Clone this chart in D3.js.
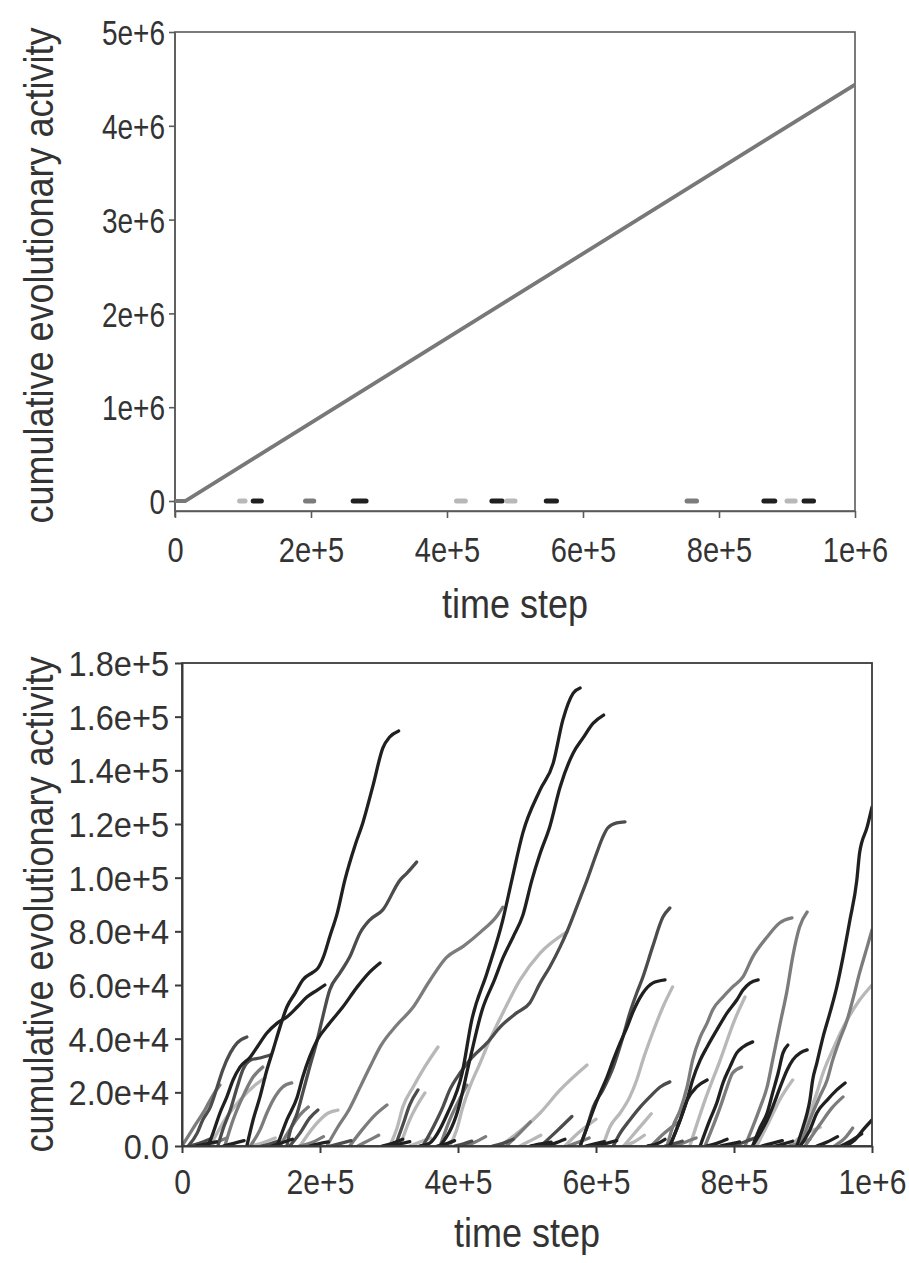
<!DOCTYPE html>
<html><head><meta charset="utf-8">
<script src="https://cdn.jsdelivr.net/npm/d3@7"></script>
<style>body{margin:0;background:#fff}svg{display:block}</style>
</head><body>
<svg id="c" width="909" height="1263"></svg>
<script>
// ---------- DATA ----------
// Top panel
const topXTicks = [0, 200000, 400000, 600000, 800000, 1000000];
const topXTickLabels = ["0", "2e+5", "4e+5", "6e+5", "8e+5", "1e+6"];
const topYTicks = [0, 1000000, 2000000, 3000000, 4000000, 5000000];
const topYTickLabels = ["0", "1e+6", "2e+6", "3e+6", "4e+6", "5e+6"];
const topMainX = [0, 15000, 1000000];
const topMainY = [0, 0, 4440000];
// short lineages lying on y = 0 (start, end in time steps, and shade class)
const topMinorStart = [95000, 115000, 192000, 262000, 414000, 466000, 488000, 546000, 753000, 866000, 900000, 925000];
const topMinorEnd   = [103000, 127000, 204000, 281000, 427000, 481000, 500000, 561000, 767000, 882000, 912000, 939000];
const topMinorGroup = ["l", "k", "m", "k", "l", "k", "l", "k", "m", "k", "l", "k"];

// Bottom panel
const botXTicks = [0, 200000, 400000, 600000, 800000, 1000000];
const botXTickLabels = ["0", "2e+5", "4e+5", "6e+5", "8e+5", "1e+6"];
const botYTicks = [0, 20000, 40000, 60000, 80000, 100000, 120000, 140000, 160000, 180000];
const botYTickLabels = ["0.0", "2.0e+4", "4.0e+4", "6.0e+4", "8.0e+4", "1.0e+5", "1.2e+5", "1.4e+5", "1.6e+5", "1.8e+5"];
// lineage shade classes: k black, d dark gray, m mid gray, l light gray
const lineageGroup = [
  "k","k","d","d","m","m","l","d","k","m",
  "m","m","d","m","l","l","d","l","k","k",
  "d","l","m","l","d","k","l","d","m","k",
  "m","k","m","k","l","l","k","k","k","m",
  "l","k","m","k","m",
  "m","d","l","l","m","l",
  "d","m","k","l","k","m","d","m","k","l","k","m","d","l","k","m","k","l","k","m","k","d","k","m","k","k",
  "k","d","k","k","d","k","k","d","k","k"
];
// lineage points: [time step (thousands), activity (thousands)]
const lineagePoints = [
  [[94,0],[103,9.7],[113,18.3],[123,28.3],[132,35.8],[142,44.3],[152,51.8],[164,57],[175,61.9],[190,64.8],[197,66.3],[206,71.2],[214,77.9],[225,86.8],[236,99.1],[251,112.2],[262,120.4],[277,134.5],[291,148.3],[301,152.4],[314,154.7]],
  [[38,0],[45,4.8],[55,12.3],[65,18.3],[74,24.6],[84,29.4],[99,33.2],[109,36.9],[123,42.1],[138,45.8],[152,48.1],[167,51.8],[181,55.5],[196,58.1],[207,60]],
  [[9,0],[22,4.8],[30,9.7],[41,14.5],[51,22],[59,28.3],[70,34.7],[80,38.4],[94,40.6]],
  [[52,0],[59,6],[70,13.4],[80,22],[88,28.3],[99,32],[113,32.8],[128,33.9]],
  [[0,0],[19,7.8],[33,13.4],[45,19],[55,22.7]],
  [[62,0],[74,9.7],[88,18.3],[103,25.7],[117,29.4]],
  [[41,0],[62,9.7],[84,17.1],[106,22.7],[120,25.3]],
  [[152,0],[156,4.8],[167,12.3],[175,19.8],[185,29.4],[196,39.5],[203,47],[214,58.1],[229,64.5],[243,70.4],[258,79.4],[272,84.2],[291,88],[316,99.1],[326,101.7],[340,105.8]],
  [[138,0],[152,9.7],[167,18.3],[175,25.7],[185,33.2],[196,39.5],[214,45.8],[233,51.8],[254,59.3],[272,64.8],[287,68.2]],
  [[210,0],[225,6.7],[243,14],[259,22.4],[273,29.8],[288,37.3],[311,45],[334,51.4],[359,61.6],[383,70.2],[408,74.5],[433,79.8],[457,85.9],[465,89]],
  [[99,0],[113,6],[123,12.3],[132,17.1],[146,22],[159,23.5]],
  [[142,0],[156,6],[171,11.6],[183,14.5]],
  [[156,0],[171,4.8],[185,10.4],[197,13.4]],
  [[243,0],[261,6],[280,11.6],[297,15.3]],
  [[171,0],[193,7.8],[212,12.3],[226,13.4]],
  [[301,0],[312,7],[320,14.5],[335,22],[349,28.3],[371,36.9]],
  [[309,0],[320,7.8],[330,15.3],[342,20.9]],
  [[316,0],[330,9.7],[352,19.8]],
  [[345,0],[359,1.1],[385,12.3],[406,27.2],[420,47],[442,64.5],[465,84.3],[478,99.1],[494,116.7],[519,132.7],[538,142.7],[552,158.8],[567,168.8],[577,170.7]],
  [[374,0],[400,13.4],[417,32],[435,50.7],[453,62],[465,70],[480,78],[494,86],[507,99],[519,109],[533,119],[548,133.8],[567,146.5],[581,152],[596,157.6],[611,160.6]],
  [[349,0],[364,7],[378,14.5],[388,20.9],[403,27.2],[417,32],[442,38.4],[461,44.3],[485,49.6],[504,53.3],[519,60.7],[533,66.7],[548,74.2],[559,80.5],[577,92.4],[587,99.1],[601,109.2],[610,115.2],[617,118.5],[630,120.4],[642,120.8]],
  [[388,0],[398,6],[407,14.5],[417,22],[432,30.9],[446,39.5],[465,49.6],[490,61.9],[519,71.9],[558,79.8]],
  [[374,0],[388,9.7],[407,19.8],[413,22.7]],
  [[461,0],[519,12.3],[548,20.9],[587,30.2]],
  [[577,0],[587,7],[596,14.5],[610,20.9],[625,29.4],[639,40.6],[649,49.6],[659,57],[668,63],[682,74.2],[697,85.3],[707,88.7]],
  [[577,0],[587,7],[596,13.4],[606,19.8],[616,25.7],[625,32],[635,38.4],[645,44.3],[653,49.6],[668,57],[682,60.7],[700,61.9]],
  [[610,0],[620,7],[635,12.3],[649,18.3],[659,24.6],[668,32],[682,42.1],[697,51.8],[711,59.3]],
  [[625,0],[635,4.8],[649,9.7],[664,14.5],[678,18.3],[693,22],[707,23.9]],
  [[703,0],[711,7],[722,13.4],[732,22],[740,32],[751,40.6],[761,45.8],[769,50.7],[784,55.5],[798,59.3],[813,63],[827,70.4],[848,77.9],[866,83.1],[884,85]],
  [[707,0],[722,9.7],[732,17.1],[740,24.6],[751,32],[761,36.9],[775,43.2],[790,49.6],[804,54.4],[813,58.1],[823,60.7],[835,61.9]],
  [[816,0],[827,7],[838,14.5],[848,22],[856,32],[867,45.8],[877,58.1],[885,70.4],[895,81.6],[906,87.2]],
  [[751,0],[765,9.7],[775,16],[784,23.5],[794,29.4],[804,34.7],[813,36.9],[827,38.8]],
  [[758,0],[769,7],[780,14.5],[790,22],[798,27.2],[811,29.4]],
  [[707,0],[722,9.7],[732,17.1],[746,22],[761,24.6]],
  [[833,0],[852,9.7],[866,17.1],[885,24.6]],
  [[736,0],[758,17.1],[780,32],[801,47],[816,55.5]],
  [[827,0],[838,7],[848,12.3],[856,19.8],[864,27.2],[871,34.7],[878,37.6]],
  [[827,0],[838,4.8],[848,9.7],[856,14.5],[867,22],[877,28.3],[885,32],[896,34.7],[906,35.8]],
  [[891,0],[900,7],[906,12.3],[910,17.1],[914,24.6],[920,30.9],[929,40.6],[939,49.6],[949,59.3],[958,70.4],[968,84.2],[978,99.1],[982,109.2],[993,118.9],[1000,126.3]],
  [[896,0],[906,7],[914,12.3],[924,18.3],[935,24.6],[943,32],[953,39.5],[964,47],[972,54.4],[982,64.5],[993,74.2],[1000,80.5]],
  [[896,0],[900,4.8],[910,12.3],[920,19.8],[929,27.2],[943,35.8],[964,47],[982,54.4],[1000,60]],
  [[896,0],[910,6],[920,12.3],[935,17.1],[949,20.9],[961,23.5]],
  [[903,0],[924,7.8],[942,14.2],[958,18.3]],
  [[961,0],[975,2.2],[987,6],[1000,9.7]],
  [[946,0],[961,3],[972,6.7]],
  [[470,0],[490,5],[505,9]],
  [[520,0],[545,6],[565,11]],
  [[555,0],[575,5],[600,10]],
  [[640,0],[660,6],[680,12]],
  [[680,0],[700,5],[720,9]],
  [[880,0],[900,4],[925,7]],
  // small lineages hugging the baseline
  [[10,0],[25,1],[40,2.5]],
  [[30,0],[50,1.5],[65,3]],
  [[60,0],[75,1],[90,2]],
  [[100,0],[120,1.5],[135,3]],
  [[130,0],[145,1.2],[160,2.5]],
  [[170,0],[190,1.5],[205,3.5]],
  [[215,0],[230,1],[245,2]],
  [[255,0],[270,2],[285,4]],
  [[290,0],[305,1],[320,2.5]],
  [[330,0],[345,1.5],[360,3]],
  [[370,0],[385,1],[395,2]],
  [[410,0],[425,1.5],[440,3.5]],
  [[450,0],[465,1],[480,2.5]],
  [[490,0],[505,2],[520,4]],
  [[525,0],[540,1],[555,2.5]],
  [[560,0],[575,1.5],[590,3]],
  [[600,0],[615,1],[630,2]],
  [[640,0],[655,1.5],[670,4]],
  [[675,0],[690,1],[700,2.5]],
  [[715,0],[730,1.5],[745,3]],
  [[760,0],[775,1],[790,2.5]],
  [[800,0],[815,1.5],[830,3]],
  [[840,0],[855,1],[870,2]],
  [[880,0],[895,1],[910,2.5]],
  [[920,0],[935,1.5],[950,3.5]],
  [[955,0],[970,2],[985,4.5]],
  [[20,0],[35,0.8],[50,1.5]],
  [[115,0],[128,0.8],[140,1.8]],
  [[185,0],[198,0.8],[212,1.5]],
  [[300,0],[315,0.8],[330,1.6]],
  [[395,0],[408,0.8],[420,1.8]],
  [[505,0],[520,0.8],[535,1.4]],
  [[585,0],[598,0.8],[612,1.6]],
  [[700,0],[712,0.8],[725,1.8]],
  [[780,0],[795,0.8],[808,1.5]],
  [[860,0],[872,0.8],[885,1.8]]
];

// ---------- DRAW ----------
const svg = d3.select("#c");
const shade = d3.scaleOrdinal().domain(["l","m","d","k"]).range(["#b8b8b8","#7c7c7c","#4c4c4c","#202020"]);
const textCol = "#333";
const FONT = "'Liberation Sans', Arial, Helvetica, sans-serif";

function label(x, y, str, size, anchor, rot, sx) {
  svg.append("text")
    .attr("transform", `translate(${x},${y}) rotate(${rot||0}) scale(${sx||1},1)`)
    .attr("text-anchor", anchor).attr("font-family", FONT).attr("font-size", size)
    .attr("fill", textCol).text(str);
}

function styleAxis(g, isX, offset, size, sx, col, w) {
  g.select(".domain").attr("stroke", col).attr("stroke-width", w);
  g.selectAll(".tick line").attr("stroke", col).attr("stroke-width", w);
  const t = g.selectAll(".tick text").attr("font-family", FONT).attr("font-size", size)
    .attr("fill", textCol).attr("transform", `scale(${sx},1)`);
  if (isX) t.attr("y", offset).attr("dy", 0);
  else t.attr("x", offset / sx).attr("dy", "0.36em");
}

// ===== Top panel =====
const xT = d3.scaleLinear().domain([0, 1000000]).range([175, 855]);
const yT = d3.scaleLinear().domain([0, 5000000]).range([501, 32]);
const topFrameBottom = 511;

svg.append("rect").attr("x", xT(0)).attr("y", yT(5000000))
  .attr("width", xT(1000000) - xT(0)).attr("height", topFrameBottom - yT(5000000))
  .attr("fill", "none").attr("stroke", "#5a5a5a").attr("stroke-width", 1.6);

const gTX = svg.append("g").attr("transform", `translate(0,${topFrameBottom})`)
  .call(d3.axisBottom(xT).tickValues(topXTicks).tickSize(7).tickSizeOuter(0).tickFormat((d, i) => topXTickLabels[i]));
const gTY = svg.append("g").attr("transform", `translate(${xT(0)},0)`)
  .call(d3.axisLeft(yT).tickValues(topYTicks).tickSize(6).tickSizeOuter(0).tickFormat((d, i) => topYTickLabels[i]));
styleAxis(gTX, true, 51, 35, 0.83, "#5a5a5a", 1.6);
styleAxis(gTY, false, -10, 35, 0.8, "#5a5a5a", 1.6);
gTY.select(".domain").attr("d", `M-0,${topFrameBottom + 6}V${yT(5000000)}`);

const lineT = d3.line().x(d => xT(d[0])).y(d => yT(d[1]));
topMinorStart.forEach((s, i) => {
  svg.append("path").attr("d", lineT([[s, 0], [topMinorEnd[i], 0]]))
    .attr("fill", "none").attr("stroke", shade(topMinorGroup[i])).attr("stroke-width", 5)
    .attr("stroke-linecap", "round");
});
svg.append("path").attr("d", lineT(topMainX.map((x, i) => [x, topMainY[i]])))
  .attr("fill", "none").attr("stroke", "#787878").attr("stroke-width", 3.8);

label((xT(0) + xT(1000000)) / 2, 618, "time step", 40, "middle", 0, 0.9);
label(53, (yT(5000000) + topFrameBottom) / 2 + 4, "cumulative evolutionary activity", 40, "middle", -90, 0.9);

// ===== Bottom panel =====
const xB = d3.scaleLinear().domain([0, 1000000]).range([182, 872]);
const yB = d3.scaleLinear().domain([0, 180000]).range([1146, 663]);

svg.append("defs").append("clipPath").attr("id", "clipB").append("rect")
  .attr("x", xB(0)).attr("y", yB(180000) - 2).attr("width", xB(1000000) - xB(0)).attr("height", yB(0) - yB(180000) + 2);

const lineB = d3.line().curve(d3.curveMonotoneX).x(d => xB(d[0] * 1000)).y(d => yB(d[1] * 1000));
const order = ["l", "m", "d", "k"];
const gL = svg.append("g").attr("clip-path", "url(#clipB)");
order.forEach(grp => {
  lineagePoints.forEach((pts, i) => {
    if (lineageGroup[i] !== grp) return;
    gL.append("path").attr("d", lineB(pts)).attr("fill", "none")
      .attr("stroke", shade(grp)).attr("stroke-width", 3.3)
      .attr("stroke-linejoin", "round").attr("stroke-linecap", "round");
  });
});

svg.append("rect").attr("x", xB(0)).attr("y", yB(180000))
  .attr("width", xB(1000000) - xB(0)).attr("height", yB(0) - yB(180000))
  .attr("fill", "none").attr("stroke", "#3a3a3a").attr("stroke-width", 1.8);

const gBX = svg.append("g").attr("transform", `translate(0,${yB(0)})`)
  .call(d3.axisBottom(xB).tickValues(botXTicks).tickSize(7).tickSizeOuter(0).tickFormat((d, i) => botXTickLabels[i]));
const gBY = svg.append("g").attr("transform", `translate(${xB(0)},0)`)
  .call(d3.axisLeft(yB).tickValues(botYTicks).tickSize(7).tickSizeOuter(0).tickFormat((d, i) => botYTickLabels[i]));
styleAxis(gBX, true, 48, 35, 0.86, "#3a3a3a", 2);
styleAxis(gBY, false, -13, 35, 0.93, "#3a3a3a", 2);

label((xB(0) + xB(1000000)) / 2, 1247, "time step", 40, "middle", 0, 0.9);
label(53, (yB(180000) + yB(0)) / 2, "cumulative evolutionary activity", 40, "middle", -90, 0.9);
</script>
</body></html>
